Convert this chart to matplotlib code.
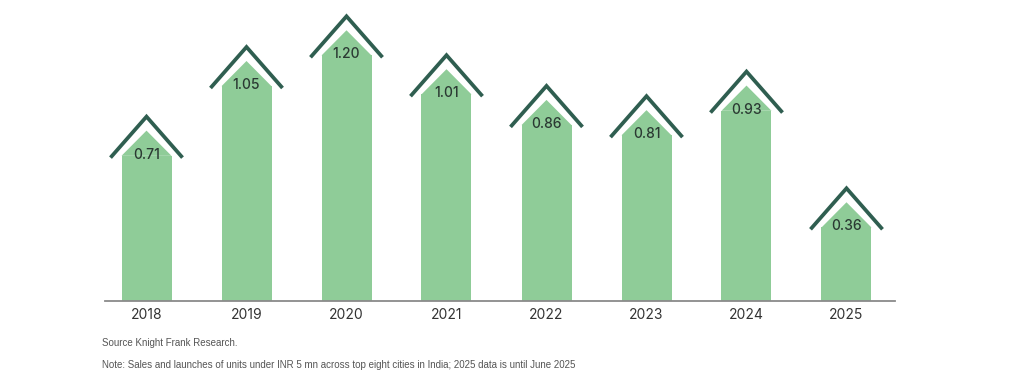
import matplotlib
matplotlib.use("Agg")
import matplotlib.pyplot as plt
import numpy as np

plt.rcParams['font.family'] = ['Inter', 'DejaVu Sans']

years = ["2018", "2019", "2020", "2021", "2022", "2023", "2024", "2025"]
sales = [0.71, 1.05, 1.20, 1.01, 0.86, 0.81, 0.93, 0.36]

bar_color = "#8fcc98"
roof_color = "#2f5e50"
text_color = "#2b3a33"

fig = plt.figure(figsize=(10.24, 3.89), dpi=100)
ax = fig.add_axes([105 / 1024, 88 / 389, 790 / 1024, 301 / 389])

x = np.arange(len(years))
ytop = 1.47
ax.set_xlim(-0.415, 7.485)
ax.set_ylim(0, ytop)

# pixel -> data helpers (axes is 790 x 301 px)
px_x = (7.485 + 0.415) / 790
px_y = ytop / 301

half = 0.25
ax.bar(x, sales, width=2 * half, color=bar_color, zorder=2)

for xi, v in zip(x, sales):
    roof = 25 * px_y
    ax.fill([xi - half, xi, xi + half], [v - 0.001, v + roof, v - 0.001],
            color=bar_color, lw=0, zorder=2)
    ax.plot([xi - 36 * px_x, xi, xi + 36 * px_x],
            [v - 2 * px_y, v + 39 * px_y, v - 2 * px_y],
            color=roof_color, lw=2.7, solid_joinstyle="miter",
            solid_capstyle="butt", clip_on=False, zorder=3)
    ax.text(xi, v + 1 * px_y, f"{v:.2f}", ha="center", va="center",
            fontsize=10, fontweight="medium", color=text_color, zorder=4)

ax.set_xticks(x, years)
ax.tick_params(axis="x", length=0, pad=5, labelsize=10, labelcolor="#333333")
ax.set_yticks([])
for s in ["top", "left", "right"]:
    ax.spines[s].set_visible(False)
ax.spines["bottom"].set_color("#8a8a8a")
ax.spines["bottom"].set_linewidth(1.3)
ax.patch.set_alpha(0)

foot = dict(ha="left", va="center", fontsize=7, color="#555555",
            family=["Liberation Sans", "DejaVu Sans"])
fig.text(102 / 1024, 1 - 343 / 389, "Source Knight Frank Research.", **foot)
fig.text(102 / 1024, 1 - 365 / 389,
         "Note: Sales and launches of units under INR 5 mn across top eight cities in India; 2025 data is until June 2025",
         **foot)

fig.savefig("out.png", dpi=100)
